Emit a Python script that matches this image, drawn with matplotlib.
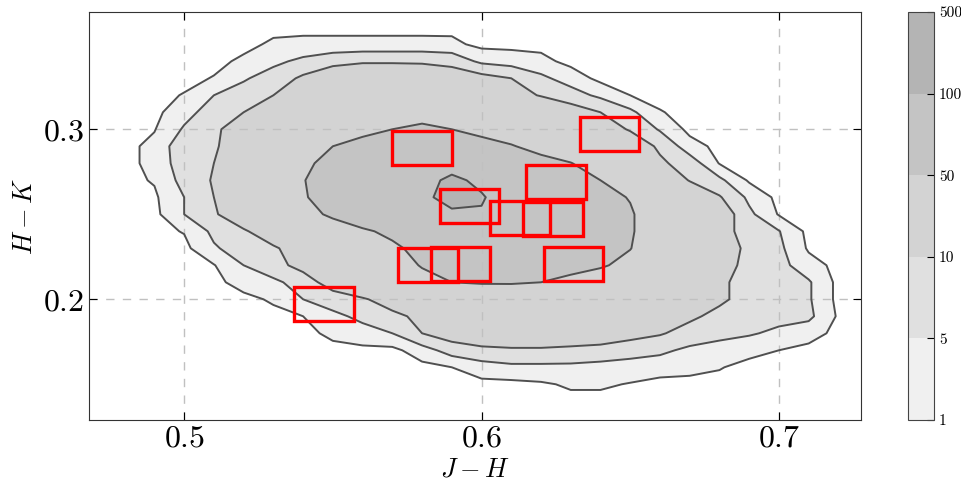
import numpy as np
import matplotlib
matplotlib.use("Agg")
import matplotlib.pyplot as plt
from matplotlib.patches import Rectangle

plt.rcParams['font.family'] = 'serif'
plt.rcParams['font.serif'] = ['cmr10', 'DejaVu Serif']
plt.rcParams['mathtext.fontset'] = 'cm'
plt.rcParams['axes.formatter.use_mathtext'] = True

# binned star counts on a J-H / H-K grid
jh = [0.47, 0.48, 0.49, 0.50, 0.51, 0.52, 0.53, 0.54, 0.55, 0.56, 0.57, 0.58, 0.59, 0.60,
      0.61, 0.62, 0.63, 0.64, 0.65, 0.66, 0.67, 0.68, 0.69, 0.70, 0.71, 0.72, 0.73]
hk = [0.37, 0.36, 0.35, 0.34, 0.33, 0.32, 0.31, 0.30, 0.29, 0.28, 0.27, 0.26, 0.25,
      0.24, 0.23, 0.22, 0.21, 0.20, 0.19, 0.18, 0.17, 0.16, 0.15, 0.14, 0.13]
counts = [
    [0] * 27,
    [0] * 27,
    [0, 0, 0, 0, 0, 0, 1.6, 2, 2, 2, 2, 2, 1.9, 0, 0, 0, 0, 0, 0, 0, 0, 0, 0, 0, 0, 0, 0],
    [0, 0, 0, 0, 0, 1.7, 4, 6, 8, 9, 9, 9, 8, 4, 3, 2, 0, 0, 0, 0, 0, 0, 0, 0, 0, 0, 0],
    [0, 0, 0, 0, 1.2, 4.5, 7, 11, 15, 18, 18, 16, 14, 12, 10, 6, 3, 0, 0, 0, 0, 0, 0, 0, 0, 0, 0],
    [0, 0, 0, 1.2, 5, 7, 10, 16, 20, 24, 26, 25, 22, 18, 13, 9.5, 7, 4, 1, 0, 0, 0, 0, 0, 0, 0, 0],
    [0, 0, 0, 3.5, 7, 10, 15, 22, 28, 33, 38, 40, 38, 32, 25, 18, 13, 10, 6, 1.2, 0, 0, 0, 0, 0, 0, 0],
    [0, 0, 0.8, 5.5, 9, 13, 20, 28, 35, 42, 50, 55, 50, 42, 34, 26, 18, 13, 9.5, 4.5, 0, 0, 0, 0, 0, 0, 0],
    [0, 0, 2, 8, 9, 15, 25, 38, 50, 60, 68, 72, 68, 60, 52, 40, 30, 22, 14, 9, 2.5, 0, 0, 0, 0, 0, 0],
    [0, 0, 2, 7.5, 10, 18, 32, 45, 58, 68, 78, 85, 90, 82, 70, 60, 51, 35, 22, 11, 7.5, 0.8, 0, 0, 0, 0, 0],
    [0, 0, 1.3, 6.5, 10.5, 20, 35, 49, 62, 72, 82, 92, 105, 95, 80, 68, 58, 50, 32, 18, 9.5, 6, 0.5, 0, 0, 0, 0],
    [0, 0, 0.4, 5, 10, 18, 32, 48, 60, 72, 85, 95, 108, 102, 88, 75, 65, 56, 49, 30, 18, 10.5, 4, 0, 0, 0, 0],
    [0, 0, 0, 5, 9, 16, 28, 40, 55, 68, 80, 92, 96, 98, 90, 78, 68, 60, 52, 38, 25, 14, 6, 0.7, 0, 0, 0],
    [0, 0, 0, 1.2, 6, 9, 15, 25, 35, 46, 56, 68, 80, 85, 80, 72, 64, 58, 52, 38, 26, 13, 7, 5.2, 0, 0, 0],
    [0, 0, 0, 0, 4.5, 7, 9, 14, 22, 32, 45, 58, 68, 75, 72, 65, 58, 54, 50.5, 38, 25, 15, 8, 6, 0.5, 0, 0],
    [0, 0, 0, 0, 0.8, 5, 8, 12, 18, 26, 36, 52, 62, 68, 66, 60, 55, 52, 45, 34, 23, 13, 8, 6.5, 2.5, 0, 0],
    [0, 0, 0, 0, 0, 2.5, 4, 7, 13, 20, 30, 40, 50, 52, 52, 50, 46, 40, 32, 25, 17, 11, 8, 7, 5.5, 0, 0],
    [0, 0, 0, 0, 0, 0, 1.5, 5, 7, 9, 14, 20, 26, 30, 32, 32, 30, 27, 23, 19, 15, 11, 8, 7, 5.5, 0, 0],
    [0, 0, 0, 0, 0, 0, 0, 1, 4, 6, 8, 12, 16, 19, 21, 22, 21, 19, 16, 13, 11, 8.5, 7, 6.5, 6, 0.5, 0],
    [0, 0, 0, 0, 0, 0, 0, 0, 1.8, 3.5, 5, 10, 13, 15, 16, 16, 15, 14, 12, 10.5, 8, 6.5, 5.5, 4, 2.5, 0, 0],
    [0, 0, 0, 0, 0, 0, 0, 0, 0, 0, 0, 3, 7, 8.5, 9, 9, 8.5, 8, 7, 6, 4, 3, 2, 1, 0, 0, 0],
    [0, 0, 0, 0, 0, 0, 0, 0, 0, 0, 0, 0, 1, 3, 4, 4, 4, 3.5, 3, 2.5, 2, 1.2, 0, 0, 0, 0, 0],
    [0] * 15 + [0.5, 1.5, 1.5, 0.8] + [0] * 8,
    [0] * 27,
    [0] * 27,
]
levels = [1, 5, 10, 50, 100, 500]
fill_colors = ['#f0f0f0', '#e0e0e0', '#d3d3d3', '#c4c4c4', '#b4b4b4']

# lower-left corners of the 0.02 x 0.02 selection boxes
box_jh = [0.570, 0.633, 0.615, 0.586, 0.603, 0.614, 0.572, 0.583, 0.621, 0.537]
box_hk = [0.279, 0.287, 0.259, 0.245, 0.238, 0.237, 0.210, 0.211, 0.211, 0.187]
box_size = 0.02

fig = plt.figure(figsize=(9.62, 4.87), dpi=100)
ax = fig.add_axes([0.0925, 0.1376, 0.8025, 0.8378])
cax = fig.add_axes([0.9439, 0.1376, 0.027, 0.8378])

Z = np.array(counts)
cs = ax.contourf(jh, hk, Z, levels=levels, colors=fill_colors)
ax.contour(jh, hk, Z, levels=levels[:-1], colors='#505050', linewidths=1.4)

for x0, y0 in zip(box_jh, box_hk):
    ax.add_patch(Rectangle((x0, y0), box_size, box_size, fill=False,
                           edgecolor='red', linewidth=2.4, zorder=5))

ax.set_xlim(0.468, 0.7276)
ax.set_ylim(0.129, 0.369)
ax.set_xticks([0.5, 0.6, 0.7])
ax.set_yticks([0.2, 0.3])
ax.grid(True, color='#c0c0c0', linestyle=(0, (6, 6)), linewidth=1)
ax.tick_params(direction='in', top=True, right=True, labelsize=23, length=6)
ax.set_xlabel(r'$J-H$', fontsize=19)
ax.set_ylabel(r'$H-K$', fontsize=19)
for sp in ax.spines.values():
    sp.set_color('#333333')

cb = fig.colorbar(cs, cax=cax)
cb.set_ticks(levels)
cb.set_ticklabels([str(v) for v in levels])
cb.ax.tick_params(direction='in', labelsize=11, length=5)
cb.outline.set_edgecolor('#444444')

fig.savefig('out.png', dpi=100)
